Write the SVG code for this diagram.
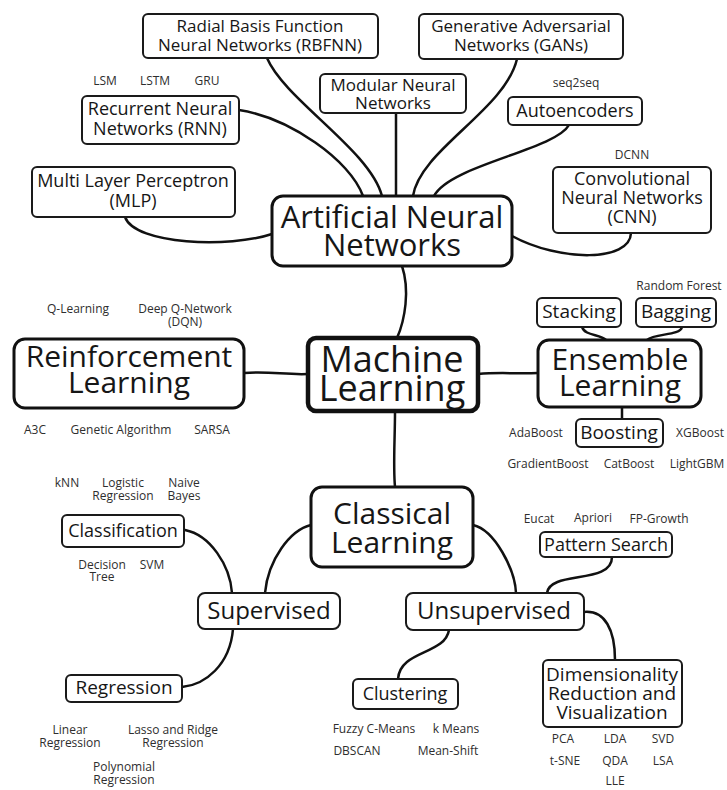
<svg xmlns="http://www.w3.org/2000/svg" width="727" height="790" viewBox="0 0 727 790">
<style>
.bg{fill:#fff}
.box{fill:#fff;stroke:#1a1a1a;stroke-width:2}
.big{fill:#fff;stroke:#111;stroke-width:3}
.main{fill:#fff;stroke:#111;stroke-width:4.5}
.c{fill:none;stroke:#111;stroke-width:2.5;stroke-linecap:round}
text{font-family:"Open Sans","Noto Sans","DejaVu Sans",sans-serif;fill:#161616;text-anchor:middle}
.s17{font-size:17px}
.s18{font-size:18px}
.s19{font-size:19px}
.s24{font-size:24px}
.lg{font-size:30px}
.sm{font-size:12px;fill:#2e2e2e}
</style>
<rect class="bg" width="727" height="790"/>
<g id="connectors">
<path class="c" d="M267,58 C285,100 370,150 382,196"/>
<path class="c" d="M239,110 C290,118 350,160 363,196"/>
<path class="c" d="M125,217 C135,245 230,248 272,234"/>
<path class="c" d="M396,113 L396,196"/>
<path class="c" d="M517,59 C505,110 420,150 413,196"/>
<path class="c" d="M569,125 C555,150 450,165 434,196"/>
<path class="c" d="M631,233 C630,262 560,262 512,236"/>
<path class="c" d="M402,266 C410,290 405,320 397,338"/>
<path class="c" d="M244,373 C270,371 285,375 308,374"/>
<path class="c" d="M478,374 C500,372 515,374 538,373"/>
<path class="c" d="M582,327 C585,336 600,334 606,340"/>
<path class="c" d="M682,327 C680,336 655,333 647,340"/>
<path class="c" d="M622,407 L622,419"/>
<path class="c" d="M395,411 C395,440 393,465 395,487"/>
<path class="c" d="M311,525 C290,530 268,560 265,593"/>
<path class="c" d="M473,525 C495,530 515,570 516,593"/>
<path class="c" d="M612,557 C612,585 550,570 547,593"/>
<path class="c" d="M185,530 C210,535 230,565 232,593"/>
<path class="c" d="M233,629 C230,665 205,685 182,687"/>
<path class="c" d="M449,630 C445,655 400,650 398,679"/>
<path class="c" d="M584,612 C605,610 615,630 615,660"/>
</g>
<g id="rbfnn"><rect class="box" x="143" y="14" width="235" height="44" rx="5"/><text class="s17" x="260" y="32">Radial Basis Function<tspan x="260" y="51">Neural Networks (RBFNN)</tspan></text></g>
<g id="gans"><rect class="box" x="419" y="14" width="204" height="45" rx="5"/><text class="s17" x="521" y="32">Generative Adversarial<tspan x="521" y="51">Networks (GANs)</tspan></text></g>
<g id="modular"><rect class="box" x="320" y="74" width="146" height="39" rx="5"/><text class="s17" x="393" y="91">Modular Neural<tspan x="393" y="109">Networks</tspan></text></g>
<g id="autoencoders"><rect class="box" x="508" y="97" width="134" height="28" rx="5"/><text class="s18" x="575" y="117">Autoencoders</text></g>
<g id="rnn"><rect class="box" x="82" y="96" width="157" height="48" rx="5"/><text class="s18" x="160" y="115">Recurrent Neural<tspan x="160" y="135">Networks (RNN)</tspan></text></g>
<g id="mlp"><rect class="box" x="32" y="167" width="203" height="50" rx="5"/><text class="s18" x="133" y="187">Multi Layer Perceptron<tspan x="133" y="207">(MLP)</tspan></text></g>
<g id="cnn"><rect class="box" x="553" y="167" width="158" height="66" rx="5"/><text class="s18" x="632" y="185">Convolutional<tspan x="632" y="204">Neural Networks</tspan><tspan x="632" y="223">(CNN)</tspan></text></g>
<g id="ann"><rect class="big" x="272" y="196" width="240" height="70" rx="11"/><text style="font-size:31px" x="392" y="228">Artificial Neural<tspan x="392" y="256">Networks</tspan></text></g>
<g id="rl"><rect class="big" x="14" y="339" width="230" height="69" rx="11"/><text class="lg" x="129" y="367">Reinforcement<tspan x="129" y="393">Learning</tspan></text></g>
<g id="ml"><rect class="main" x="308" y="338" width="170" height="73" rx="8"/><text style="font-size:36px" x="392" y="372">Machine<tspan x="392" y="401">Learning</tspan></text></g>
<g id="ensemble"><rect class="big" x="538" y="340" width="163" height="67" rx="11"/><text class="lg" x="620" y="370">Ensemble<tspan x="620" y="396">Learning</tspan></text></g>
<g id="stacking"><rect class="box" x="537" y="298" width="84" height="29" rx="5"/><text class="s19" x="579" y="318">Stacking</text></g>
<g id="bagging"><rect class="box" x="636" y="298" width="80" height="29" rx="5"/><text class="s19" x="676" y="318">Bagging</text></g>
<g id="boosting"><rect class="box" x="576" y="419" width="87" height="28" rx="5"/><text class="s19" x="619" y="439">Boosting</text></g>
<g id="classical"><rect class="big" x="311" y="487" width="162" height="80" rx="11"/><text class="lg" x="392" y="524">Classical<tspan x="392" y="553">Learning</tspan></text></g>
<g id="classification"><rect class="box" x="62" y="515" width="122" height="32" rx="5"/><text class="s18" x="123" y="537">Classification</text></g>
<g id="supervised"><rect class="box" x="198" y="593" width="142" height="36" rx="7"/><text class="s24" x="269" y="619">Supervised</text></g>
<g id="unsupervised"><rect class="box" x="406" y="593" width="178" height="37" rx="7"/><text class="s24" x="494" y="619">Unsupervised</text></g>
<g id="pattern"><rect class="box" x="540" y="532" width="132" height="25" rx="5"/><text class="s18" x="606" y="551">Pattern Search</text></g>
<g id="regression"><rect class="box" x="66" y="675" width="116" height="27" rx="5"/><text class="s19" x="124" y="694">Regression</text></g>
<g id="clustering"><rect class="box" x="353" y="679" width="105" height="30" rx="5"/><text class="s18" x="405" y="700">Clustering</text></g>
<g id="dimred"><rect class="box" x="543" y="660" width="139" height="67" rx="5"/><text class="s19" x="612" y="681">Dimensionality<tspan x="612" y="700">Reduction and</tspan><tspan x="612" y="719">Visualization</tspan></text></g>
<g id="labels">
<text class="sm" x="105" y="85">LSM</text><text class="sm" x="155" y="85">LSTM</text><text class="sm" x="207" y="85">GRU</text>
<text class="sm" x="576" y="87">seq2seq</text>
<text class="sm" x="632" y="159">DCNN</text>
<text class="sm" x="78" y="313">Q-Learning</text><text class="sm" x="185" y="313">Deep Q-Network<tspan x="185" y="326">(DQN)</tspan></text>
<text class="sm" x="35" y="434">A3C</text><text class="sm" x="121" y="434">Genetic Algorithm</text><text class="sm" x="212" y="434">SARSA</text>
<text class="sm" x="679" y="290">Random Forest</text>
<text class="sm" x="536" y="437">AdaBoost</text><text class="sm" x="700" y="437">XGBoost</text>
<text class="sm" x="548" y="468">GradientBoost</text><text class="sm" x="629" y="468">CatBoost</text><text class="sm" x="697" y="468">LightGBM</text>
<text class="sm" x="67" y="487">kNN</text><text class="sm" x="123" y="487">Logistic<tspan x="123" y="500">Regression</tspan></text><text class="sm" x="184" y="487">Naive<tspan x="184" y="500">Bayes</tspan></text>
<text class="sm" x="102" y="569">Decision<tspan x="102" y="581">Tree</tspan></text><text class="sm" x="152" y="569">SVM</text>
<text class="sm" x="539" y="523">Eucat</text><text class="sm" x="593" y="522">Apriori</text><text class="sm" x="659" y="523">FP-Growth</text>
<text class="sm" x="70" y="734">Linear<tspan x="70" y="747">Regression</tspan></text><text class="sm" x="173" y="734">Lasso and Ridge<tspan x="173" y="747">Regression</tspan></text><text class="sm" x="124" y="771">Polynomial<tspan x="124" y="784">Regression</tspan></text>
<text class="sm" x="374" y="733">Fuzzy C-Means</text><text class="sm" x="456" y="733">k Means</text><text class="sm" x="357" y="755">DBSCAN</text><text class="sm" x="448" y="755">Mean-Shift</text>
<text class="sm" x="563" y="743">PCA</text><text class="sm" x="615" y="743">LDA</text><text class="sm" x="663" y="743">SVD</text><text class="sm" x="565" y="765">t-SNE</text><text class="sm" x="615" y="765">QDA</text><text class="sm" x="663" y="765">LSA</text><text class="sm" x="615" y="785">LLE</text>
</g>
</svg>
